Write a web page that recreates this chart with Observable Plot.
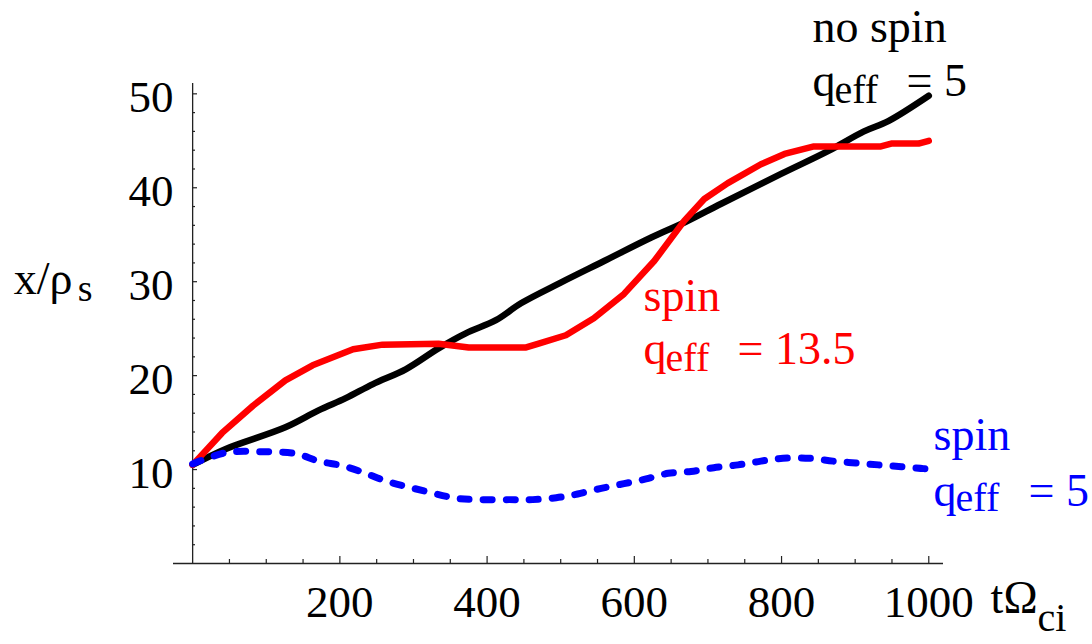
<!DOCTYPE html>
<html>
<head>
<meta charset="utf-8">
<script src="https://cdn.jsdelivr.net/npm/d3@7"></script>
<script src="https://cdn.jsdelivr.net/npm/@observablehq/plot@0.6"></script>
<style>
  html, body { margin: 0; padding: 0; background: white; }
  #chart svg, #chart svg text, #chart svg g { font-family: 'Liberation Serif', 'Times New Roman', serif !important; }
</style>
</head>
<body>
<div id="chart"></div>
<script>
// --- data ---
const tNoSpin = [0, 45, 126, 171, 208, 245, 290, 334, 371, 412, 446, 500, 559, 623, 668, 718, 800, 863, 912, 945, 1000];
const xNoSpin = [10.5, 12.2, 14.5, 16.3, 17.6, 19.1, 20.7, 22.9, 24.5, 25.9, 27.7, 29.9, 32.2, 34.7, 36.3, 38.3, 41.5, 43.9, 46.0, 47.1, 49.8];

const tSpin135 = [0, 40, 82, 126, 163, 218, 258, 334, 375, 453, 470, 507, 545, 586, 627, 668, 695, 727, 772, 804, 844, 935, 949, 986, 1000];
const xSpin135 = [10.5, 13.9, 16.8, 19.5, 21.1, 22.8, 23.3, 23.4, 23.0, 23.0, 23.4, 24.3, 26.1, 28.7, 32.2, 36.5, 38.8, 40.5, 42.5, 43.6, 44.4, 44.4, 44.7, 44.7, 45.0];

const tSpin5 = [0, 45, 95, 140, 171, 204, 235, 262, 290, 321, 354, 385, 430, 462, 494, 523, 555, 586, 616, 646, 677, 708, 741, 772, 802, 838, 870, 901, 932, 963, 993, 1000];
const xSpin5 = [10.6, 11.8, 11.9, 11.7, 10.9, 10.4, 9.6, 8.8, 8.2, 7.6, 7.0, 6.8, 6.8, 6.8, 7.0, 7.4, 8.0, 8.5, 9.0, 9.6, 9.8, 10.2, 10.5, 10.9, 11.2, 11.2, 10.9, 10.7, 10.5, 10.3, 10.1, 10.1];

const xTickLabels = [200, 400, 600, 800, 1000];
const xMinorTicks = [50, 100, 150, 250, 300, 350, 450, 500, 550, 650, 700, 750, 850, 900, 950];
const yTickLabels = [10, 20, 30, 40, 50];
const yMinorTicks = [2, 4, 6, 8, 12, 14, 16, 18, 22, 24, 26, 28, 32, 34, 36, 38, 42, 44, 46, 48];

// --- build ---
const toRows = (ts, vs) => ts.map((t, i) => ({t, v: vs[i]}));
const black = toRows(tNoSpin, xNoSpin);
const red = toRows(tSpin135, xSpin135);
const blue = toRows(tSpin5, xSpin5);

const FONT = "Liberation Serif";
const MAIN = 46, SUB = 40;
const frameH = 644 - 83 - 81;
const frameW = 1092 - 173 - 149;

function label(textStr, t, v, color, size, dx = 0, dy = 0) {
  return Plot.text([textStr], {
    x: () => t, y: () => v, text: d => d,
    textAnchor: "start", lineAnchor: "bottom",
    fill: color, fontSize: size, fontFamily: FONT, dx, dy
  });
}

const chart = Plot.plot({
  width: 1092,
  height: 644,
  marginTop: 83,
  marginBottom: 81,
  marginLeft: 173,
  marginRight: 149,
  style: {fontFamily: FONT, fontSize: "45px", background: "white", overflow: "visible"},
  x: {domain: [-26, 1020]},
  y: {domain: [0, 51.1]},
  marks: [
    // axis lines
    Plot.ruleY([0], {stroke: "#222", strokeWidth: 1.3}),
    Plot.ruleX([0], {stroke: "#222", strokeWidth: 1.3}),
    // ticks (inward)
    Plot.tickX(xTickLabels, {x: d => d, insetTop: frameH - 7, stroke: "#222", strokeWidth: 1.2}),
    Plot.tickX(xMinorTicks, {x: d => d, insetTop: frameH - 4, stroke: "#222", strokeWidth: 1.2}),
    Plot.tickY(yTickLabels, {y: d => d, insetLeft: 19, insetRight: frameW - 19 - 5, stroke: "#222", strokeWidth: 1.2}),
    Plot.tickY(yMinorTicks, {y: d => d, insetLeft: 19, insetRight: frameW - 19 - 3, stroke: "#222", strokeWidth: 1.2}),
    // tick labels
    Plot.axisX(xTickLabels, {tickSize: 0, tickPadding: 22, tickFormat: d => String(d), label: null, fontSize: 45, fontFamily: FONT, fill: "black"}),
    Plot.axisY(yTickLabels, {tickSize: 0, tickPadding: 0, dy: 4, tickFormat: d => String(d), label: null, fontSize: 45, fontFamily: FONT, fill: "black"}),
    // curves
    Plot.line(black, {x: "t", y: "v", stroke: "black", strokeWidth: 6.5, curve: "catmull-rom", strokeLinejoin: "round", strokeLinecap: "round"}),
    Plot.line(red, {x: "t", y: "v", stroke: "#ff0000", strokeWidth: 6.5, strokeLinejoin: "round", strokeLinecap: "round"}),
    Plot.line(blue, {x: "t", y: "v", stroke: "#0000ff", strokeWidth: 7, curve: "catmull-rom", strokeLinecap: "round", strokeDasharray: "9,14"}),
    // annotations: no spin
    label("no spin", 842, 55.47, "black", MAIN),
    label("q", 842, 49.72, "black", MAIN),
    label("eff", 842, 49.72, "black", SUB, 22, 7),
    label("= 5", 842, 49.72, "black", MAIN, 94),
    // spin q=13.5
    label("spin", 612.5, 26.83, "#ff0000", MAIN),
    label("q", 612.5, 21.29, "#ff0000", MAIN),
    label("eff", 612.5, 21.29, "#ff0000", SUB, 22, 7),
    label("= 13.5", 612.5, 21.29, "#ff0000", MAIN, 94),
    // spin q=5
    label("spin", 1006.5, 12.03, "#0000ff", MAIN),
    label("q", 1006.5, 6.17, "#0000ff", MAIN),
    label("eff", 1006.5, 6.17, "#0000ff", SUB, 22, 5),
    label("= 5", 1006.5, 6.17, "#0000ff", MAIN, 95),
    // axis labels
    label("x/ρ", -243, 28.74, "black", MAIN),
    label("s", -243, 28.74, "black", SUB - 2, 64, 7),
    label("tΩ", 1084, -5.22, "black", MAIN),
    label("ci", 1084, -5.22, "black", SUB, 47, 18)
  ]
});

document.getElementById("chart").appendChild(chart);
</script>
</body>
</html>
